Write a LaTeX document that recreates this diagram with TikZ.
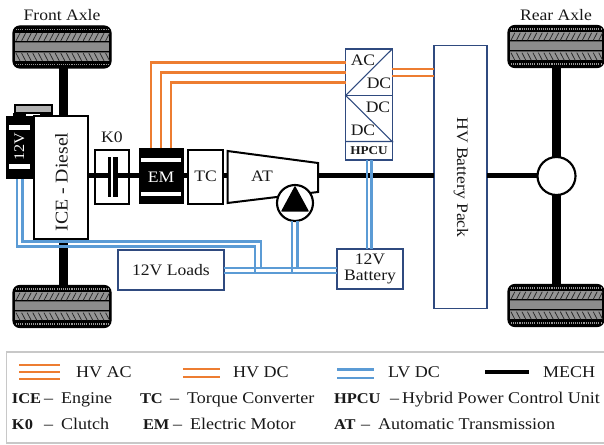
\documentclass[tikz,border=0pt]{standalone}
\usepackage{fontspec}
\setmainfont[FakeStretch=1.1]{Liberation Serif}
\def\ux{0.75pt}
\definecolor{hvor}{HTML}{ED7D31}
\definecolor{lvbl}{HTML}{5B9BD5}
\definecolor{navy}{HTML}{2F4A7F}
\definecolor{legrule}{HTML}{C8C8C8}
\tikzset{
  txt/.style={inner sep=0pt,outer sep=0pt,font=\fontsize{12}{13}\selectfont,text=black!90},
  legtxt/.style={txt,anchor=base west,font=\fontsize{12.3}{13}\selectfont},
  legbold/.style={txt,anchor=base west,font=\fontsize{11.2}{13}\selectfont\bfseries},
  pxbox/.style 2 args={inner sep=0pt,outer sep=0pt,minimum width=#1*\ux,minimum height=#2*\ux},
  blackbox/.style={draw=black,line width=1.5pt,fill=white},
  bluebox/.style={draw=navy,line width=0.8pt,fill=white},
  solidbox/.style={draw=none,fill=black},
  whitebar/.style={draw=none,fill=white},
  mech/.style={line width=3.75pt,draw=black},
  axle/.style={line width=6.75pt,draw=black},
  hvac/.style={line width=1.9pt,draw=hvor},
  lvdc/.style={line width=1.8pt,draw=lvbl},
  tyrebox/.style={draw=black,line width=0.8pt,fill=black,rounded corners=5pt},
  tyretread/.pic={
    \fill[black!42] (2,7) rectangle (96,15);
    \fill[black!42] (2,27) rectangle (96,35);
    \fill[black!45] (2,17) rectangle (96,25);
    \draw[black!65,line width=0.5pt] (2,16) -- (96,16) (2,26) -- (96,26);
    \foreach \k in {0,...,16}{
      \draw[black!85,line width=0.55pt] ({3+\k*5.6},14.8) -- ({7+\k*5.6},7.2);
      \draw[black!85,line width=0.55pt] ({3+\k*5.6},27.2) -- ({7+\k*5.6},34.8);
    }
    \draw[black!40,line width=0.9pt,dash pattern=on 0.8pt off 0.8pt] (3,3.5) -- (95,3.5) (3,38.5) -- (95,38.5);
  }
}
\begin{document}
\begin{tikzpicture}[x=\ux,y=-\ux]
\useasboundingbox (0,0) rectangle (604,445);
\fill[white] (0,0) rectangle (604,445);

% reference coordinate of the mechanical shaft
\coordinate (hub) at (300,176);
\coordinate (fa) at (63.5,176);
\coordinate (ra) at (556.5,176);

% tyres
\node[tyrebox,pxbox={98}{42}] (ft) at (62,47) {};
\pic at (ft.north west) {tyretread};
\node[tyrebox,pxbox={98}{42}] (fb) at (62,306.5) {};
\pic at (fb.north west) {tyretread};
\node[tyrebox,pxbox={96}{42}] (rt) at (556,46.5) {};
\pic[xscale=0.98] at (rt.north west) {tyretread};
\node[tyrebox,pxbox={96}{42}] (rb) at (556,305.5) {};
\pic[xscale=0.98] at (rb.north west) {tyretread};

\node[txt] (fal) at (62,15) {Front Axle};
\node[txt] (ral) at (556,15) {Rear Axle};

% 12 V starter battery
\node[draw=black,line width=0.8pt,fill=black!30,pxbox={37}{8}] (cap) at (33.5,109) {};
\node[solidbox,pxbox={13}{3}] (capa) at (19,114.5) {};
\node[solidbox,pxbox={13}{3}] (capb) at (46,114.5) {};
\node[solidbox,pxbox={27}{63}] (b12) at (19,147.5) {};
\node[whitebar,pxbox={21}{5}] (b12a) at (19.5,127.5) {};
\node[whitebar,pxbox={21}{5}] (b12b) at (19.5,166.5) {};
\node[txt,text=white,rotate=90,font=\fontsize{11}{12}\selectfont] (b12l) at (19.5,147) {12V};

% powertrain boxes
\node[blackbox,pxbox={53.5}{123}] (ice) at (61.2,177.5) {};
\node[txt,rotate=90,font=\fontsize{13.5}{14}\selectfont] (icel) at (61.5,182) {ICE - Diesel};
\node[blackbox,pxbox={34}{54}] (k0) at (112,177) {};
\node[txt] (k0l) at (112,137) {K0};
\node[solidbox,pxbox={3.4}{40}] (pla) at (109.3,177) {};
\node[solidbox,pxbox={4.4}{40}] (plb) at (115.5,177) {};
\node[solidbox,pxbox={45}{56}] (em) at (161,176.5) {};
\node[whitebar,pxbox={40}{4}] (ema) at (161,160) {};
\node[whitebar,pxbox={40}{4}] (emb) at (161,194) {};
\node[txt,text=white] (eml) at (161,177.5) {EM};
\node[blackbox,pxbox={35}{54}] (tc) at (205.5,177) {};
\node[txt] (tcl) at (205.5,176) {TC};

% AT
\coordinate (atnw) at (227.5,151);
\coordinate (atne) at (318,163);
\coordinate (atse) at (318,192);
\coordinate (atsw) at (227.5,203);
\coordinate (ate) at (318,176);
\draw[black,line width=1.5pt,fill=white] (atnw) -- (atne) -- (atse) -- (atsw) -- cycle;
\node[txt] (atl) at (262,176) {AT};

% pump
\node[draw=black,line width=1.6pt,fill=white,circle,pxbox={36}{36}] (pump) at (295,203) {};
\fill[black,line join=round,draw=black,line width=1pt] (295,187) -- (282,211) -- (308,211) -- cycle;

% HPCU and others
\node[bluebox,pxbox={46.5}{111}] (hpcu) at (369,104.5) {};
\draw[navy,line width=0.8pt] (hpcu.north east) -- (345.7,95.5) -- (hpcu.east |- 0,141.5) -- (345.7,141.5);
\draw[navy,line width=0.8pt] (345.7,95.5) -- (392.2,95.5);
\node[txt] (acl) at (363,60) {AC};
\node[txt] (dc1) at (379,83) {DC};
\node[txt] (dc2) at (378,107) {DC};
\node[txt] (dc3) at (363,130) {DC};
\node[txt,font=\fontsize{9}{10}\selectfont\bfseries] (hpl) at (369,151) {HPCU};

\node[bluebox,pxbox={53}{262.5}] (pack) at (460.5,177) {};
\node[txt,rotate=-90] (packl) at (461,177.5) {HV Battery Pack};
\node[bluebox,pxbox={106}{40}] (loads) at (171,270) {};
\node[txt] (loadsl) at (171,270) {12V Loads};
\node[bluebox,pxbox={66}{40}] (bat) at (370,269) {};
\node[txt,align=center,font=\fontsize{12}{12.5}\selectfont] (batl) at (370,269) {12V\\Battery};

\node[draw=black,line width=1.6pt,fill=white,circle,pxbox={38}{38}] (diff) at (ra) {};

% axles
\draw[axle] (fa |- ft.south) -- (fa |- ice.north);
\draw[axle] (fa |- ice.south) -- (fa |- fb.north);
\draw[axle] (ra |- rt.south) -- (diff.north);
\draw[axle] (diff.south) -- (ra |- rb.north);

% mechanical shaft
\draw[mech] (ice.east |- hub) -- (pla.west |- hub);
\draw[mech] (plb.east |- hub) -- (em.west |- hub);
\draw[mech] (em.east |- hub) -- (tc.west |- hub);
\draw[mech] (tc.east |- hub) -- (atnw |- hub);
\draw[mech] (ate) -- (pack.west |- hub);
\draw[mech] (pack.east |- hub) -- (diff.west);

% HV AC
\foreach \xx/\yy in {151/62.7,161/72.7,171/82.7}{
  \draw[hvac] (\xx,0 |- em.north) -- (\xx,\yy) -- (hpcu.west |- 0,\yy);
}
% HV DC
\draw[hvac] (hpcu.east |- 0,69) -- (pack.west |- 0,69);
\draw[hvac] (hpcu.east |- 0,76) -- (pack.west |- 0,76);

% LV DC
\draw[lvdc] (17,0 |- b12.south) -- (17,246.7) -- (255,246.7) -- (255,273);
\draw[lvdc] (22.5,0 |- b12.south) -- (22.5,241.7) -- (260.7,241.7) -- (260.7,268);
\draw[lvdc] (loads.east |- 0,268) -- (bat.west |- 0,268);
\draw[lvdc] (loads.east |- 0,273) -- (bat.west |- 0,273);
\draw[lvdc] (292,0 |- pump.south) -- (292,273);
\draw[lvdc] (297.5,0 |- pump.south) -- (297.5,268);
\draw[lvdc] (367,0 |- hpcu.south) -- (367,0 |- bat.north);
\draw[lvdc] (371.5,0 |- hpcu.south) -- (371.5,0 |- bat.north);

% legend
\draw[legrule,line width=0.8pt] (610,352) -- (6.5,352) -- (6.5,443) -- (610,443);
\coordinate (la1) at (19,365); \coordinate (la2) at (60,365);
\coordinate (lb1) at (19,372); \coordinate (lb2) at (60,372);
\coordinate (lc1) at (19,379); \coordinate (lc2) at (60,379);
\draw[hvac] (la1) -- (la2);
\draw[hvac] (lb1) -- (lb2);
\draw[hvac] (lc1) -- (lc2);
\coordinate (ld1) at (183,369); \coordinate (ld2) at (220,369);
\coordinate (le1) at (183,377); \coordinate (le2) at (220,377);
\draw[hvac] (ld1) -- (ld2);
\draw[hvac] (le1) -- (le2);
\coordinate (lf1) at (337,369.5); \coordinate (lf2) at (374,369.5);
\coordinate (lg1) at (337,378); \coordinate (lg2) at (374,378);
\draw[lvdc] (lf1) -- (lf2);
\draw[lvdc] (lg1) -- (lg2);
\coordinate (lh1) at (485,372); \coordinate (lh2) at (529,372);
\draw[line width=3pt,black] (lh1) -- (lh2);

\node[legtxt] (t1) at (76,378) {HV AC};
\node[legtxt] (t2) at (233,378) {HV DC};
\node[legtxt] (t3) at (388,378) {LV DC};
\node[legtxt] (t4) at (543,378) {MECH};

\node[legbold] (r1) at (12,404) {ICE};
\node[legtxt] (r2) at (44,404) {–};
\node[legtxt] (r3) at (61,404) {Engine};
\node[legbold] (r4) at (140,404) {TC};
\node[legtxt] (r5) at (170,404) {–};
\node[legtxt] (r6) at (187,404) {Torque Converter};
\node[legbold] (r7) at (334,404) {HPCU};
\node[legtxt] (r8) at (390,404) {–};
\node[legtxt] (r9) at (402,404) {Hybrid Power Control Unit};

\node[legbold] (s1) at (12,430) {K0};
\node[legtxt] (s2) at (44,430) {–};
\node[legtxt] (s3) at (61,430) {Clutch};
\node[legbold] (s4) at (143,430) {EM};
\node[legtxt] (s5) at (173,430) {–};
\node[legtxt] (s6) at (190,430) {Electric Motor};
\node[legbold] (s7) at (334,430) {AT};
\node[legtxt] (s8) at (361,430) {–};
\node[legtxt] (s9) at (378,430) {Automatic Transmission};
\end{tikzpicture}
\end{document}
